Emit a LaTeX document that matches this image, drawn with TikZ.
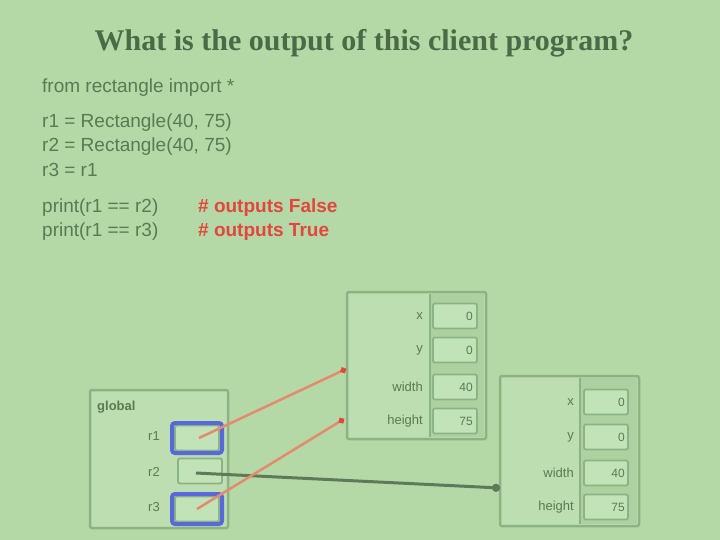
\documentclass[tikz,border=0pt]{standalone}
\usepackage{fontspec}
\setmainfont{Liberation Serif}
\setsansfont{Liberation Sans}
\usetikzlibrary{arrows.meta}
\definecolor{bg}{HTML}{B5D8A7}
\definecolor{ttl}{HTML}{4B6B46}
\definecolor{code}{HTML}{5A7A54}
\definecolor{redc}{HTML}{E2463C}
\definecolor{frm}{HTML}{8DB385}
\definecolor{frmfill}{HTML}{BCDEB0}
\definecolor{valfill}{HTML}{C2E2B7}
\definecolor{colfill}{HTML}{ADD1A1}
\definecolor{bluec}{HTML}{5868DA}
\definecolor{arr}{HTML}{5E7A58}
\definecolor{redarr}{HTML}{E58A6E}
\tikzset{
  codetxt/.style={anchor=west, inner sep=0pt, font=\sffamily\fontsize{19}{22}\selectfont, text=code},
  cmt/.style={anchor=west, inner sep=0pt, font=\sffamily\bfseries\fontsize{19}{22}\selectfont, text=redc},
  frame/.style={draw=frm, line width=2.5pt, fill=frmfill, rounded corners=2pt},
  valbox/.style={draw=frm, line width=1.8pt, fill=valfill, rounded corners=2pt, minimum width=44pt, minimum height=25pt, inner sep=0pt},
  lbl/.style={anchor=east, inner sep=0pt, font=\sffamily\fontsize{13}{15}\selectfont, text=code},
  vtxt/.style={anchor=east, inner sep=0pt, font=\sffamily\fontsize{12}{14}\selectfont, text=code},
  hilite/.style={draw=bluec, line width=4pt, rounded corners=3pt, minimum width=50pt, minimum height=30pt, inner sep=0pt},
  redptr/.style={draw=redarr, line width=2.5pt, -{Circle[length=6pt, color=redc, fill=redc]}},
  darkptr/.style={draw=arr, line width=3pt, -{Circle[length=8pt]}},
}
\begin{document}
\begin{tikzpicture}[x=1pt, y=-1pt]
\fill[bg] (0,0) rectangle (720,540);
\useasboundingbox (0,0) rectangle (720,540);

\node[font=\bfseries\fontsize{30}{34}\selectfont, text=ttl] (title) at (364,43) {What is the output of this client program?};

\node[codetxt] (l1) at (42,88) {from rectangle import *};
\node[codetxt] (l2) at (42,123) {r1 = Rectangle(40, 75)};
\node[codetxt] (l3) at (42,147) {r2 = Rectangle(40, 75)};
\node[codetxt] (l4) at (42,170) {r3 = r1};
\node[codetxt] (l5) at (42,208) {print(r1 == r2)};
\node[codetxt] (l6) at (42,232) {print(r1 == r3)};
\node[cmt] (c5) at (198,208) {\# outputs False};
\node[cmt] (c6) at (198,232) {\# outputs True};

% global frame
\draw[frame] (90,390) rectangle (228,528);
\node[anchor=west, inner sep=0pt, font=\sffamily\bfseries\fontsize{13}{15}\selectfont, text=code] (glob) at (97,407) {global};
\node[valbox] (r1v) at (197,438) {};
\node[valbox] (r2v) at (200,471) {};
\node[valbox] (r3v) at (197,509) {};
\node[lbl] (r1l) at (160,436) {r1};
\node[lbl] (r2l) at (160,472) {r2};
\node[lbl] (r3l) at (160,507) {r3};
\node[hilite] (h1) at (197,438) {};
\node[hilite] (h3) at (197,509) {};

% object 1
\draw[frame] (347,292) rectangle (486,439);
\fill[colfill] (430,294) rectangle (484,437);
\draw[frm, line width=1.5pt] (430,294) -- (430,437);
\node[valbox] (o1x) at (455,316) {};
\node[valbox] (o1y) at (455,350) {};
\node[valbox] (o1w) at (455,387) {};
\node[valbox] (o1h) at (455,421) {};
\node[lbl] at (423,316) {x};
\node[lbl] at (423,350) {y};
\node[lbl] at (423,387) {width};
\node[lbl] at (423,421) {height};
\node[vtxt] at (473,316) {0};
\node[vtxt] at (473,350) {0};
\node[vtxt] at (473,387) {40};
\node[vtxt] at (473,421) {75};

% object 2
\draw[frame] (500,376) rectangle (639,526);
\fill[colfill] (580,378) rectangle (637,524);
\draw[frm, line width=1.5pt] (580,378) -- (580,524);
\node[valbox] (o2x) at (606,402) {};
\node[valbox] (o2y) at (606,437) {};
\node[valbox] (o2w) at (606,473) {};
\node[valbox] (o2h) at (606,507) {};
\node[lbl] at (574,402) {x};
\node[lbl] at (574,437) {y};
\node[lbl] at (574,473) {width};
\node[lbl] at (574,507) {height};
\node[vtxt] at (625,402) {0};
\node[vtxt] at (625,437) {0};
\node[vtxt] at (625,473) {40};
\node[vtxt] at (625,507) {75};

\coordinate (e1) at (346,369);
\coordinate (e3) at (344,419);
\coordinate (e2) at (500,488);
\coordinate (s1) at (199,438);
\coordinate (s2) at (196,473);
\coordinate (s3) at (197,509);

\draw[darkptr] (s2) -- (e2);
\draw[redptr] (s1) -- (e1);
\draw[redptr] (s3) -- (e3);
\end{tikzpicture}
\end{document}
